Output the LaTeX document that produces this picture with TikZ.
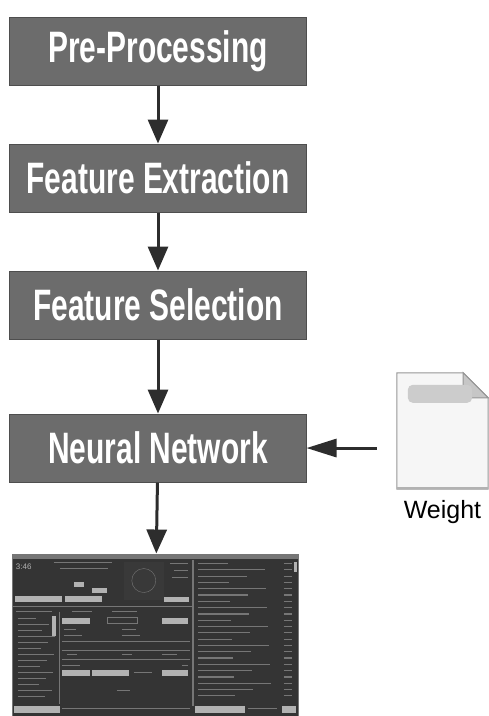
\documentclass[tikz,border=0pt]{standalone}
\usepackage{fontspec}
\setmainfont{Liberation Sans}
\newfontfamily\boxfont[FakeStretch=0.68]{Liberation Sans}
\usepackage{tikz}
\usetikzlibrary{arrows.meta, matrix, positioning}

\definecolor{boxgray}{RGB}{108,108,108}
\definecolor{boxedge}{RGB}{78,78,78}
\definecolor{arrowgray}{RGB}{45,45,45}
\definecolor{appdark}{RGB}{52,52,52}
\definecolor{appline}{RGB}{118,118,118}
\definecolor{applight}{RGB}{178,178,178}
\definecolor{docfill}{RGB}{246,246,246}
\definecolor{docedge}{RGB}{150,150,150}

\begin{document}
\begin{tikzpicture}[
		x=1pt, y=-1pt,
		every matrix/.style={row sep=58pt},
		process/.style={draw=boxedge, line width=1pt, fill=boxgray, text=white,
			minimum width=296pt, minimum height=68pt, inner sep=0pt,
			font=\boxfont\bfseries\fontsize{44}{48}\selectfont},
		screen/.style={draw=appline, fill=appdark, minimum width=286pt, minimum height=163pt, inner sep=0pt},
		docshape/.style={minimum width=91pt, minimum height=116pt, inner sep=0pt},
		to/.style={-{Triangle[width=20pt,length=24pt]}, line width=3pt, draw=arrowgray},
		bar/.style={fill=applight},
		txt/.style={draw=appline, line width=1.2pt}
		]
		
		\useasboundingbox (0,0) rectangle (489,716);
		
		\matrix[matrix of nodes, nodes={process}, anchor=north] (flow) at (158,13)
		{
			|(pre)| Pre-Processing \\
			|(ext)| Feature Extraction \\
			|(sel)| Feature Selection \\[16pt]
			|(nn)| Neural Network \\
		};
		
		% output window
		\node[screen, below=71pt of nn, xshift=-3pt] (app) {};
		
		% weight file
		\node[docshape] (weight) at (442.5,431) {};
		\node[below=11pt of weight, inner sep=0pt, font=\fontsize{25}{28}\selectfont] (wlabel) {Weight};
		
		\draw[to] (pre) -- (ext);
		\draw[to] (ext) -- (sel);
		\draw[to] (sel) -- (nn);
		\draw[to] (nn) -- (app);
		\draw[to, -{Triangle[width=18pt,length=30pt]}, shorten <=20pt] (weight.west |- nn.east) -- (nn.east);
		
		% file icon with folded corner
		\draw[docedge, line width=1pt, fill=docfill]
			(weight.north west) -- ([xshift=-25pt]weight.north east) -- ([yshift=-25pt]weight.north east)
			-- (weight.south east) -- (weight.south west) -- cycle;
		\draw[docedge, line width=1pt, fill=gray!45]
			([xshift=-25pt]weight.north east) -- ([xshift=-25pt,yshift=-25pt]weight.north east)
			-- ([yshift=-25pt]weight.north east) -- cycle;
		\fill[gray!40, rounded corners=5pt] ([xshift=11pt,yshift=-12pt]weight.north west) rectangle ([xshift=-16pt,yshift=-30pt]weight.north east);
		\draw[gray!60, line width=2.5pt] ([yshift=1pt]weight.south west) -- ([yshift=1pt]weight.south east);
		
		% window contents
		\begin{scope}[shift={(app.north west)}]
			\fill[appline] (0,0) rectangle (286,5);
			\node[anchor=west, text=applight, font=\fontsize{8}{9}\selectfont, inner sep=0pt] (clock) at (4,13) {3:46};
			\draw[txt] (42,9) -- (100,9);
			\draw[txt] (48,15) -- (96,15);
			\fill[gray!45!black] (112,8) rectangle (152,46);
			\draw[appline] (132,27) circle (12pt);
			\draw[txt] (158,10) -- (176,10) (162,17) -- (176,17) (160,24) -- (176,24);
			\fill[bar] (62,28) rectangle (72,33);
			\fill[bar] (80,34) rectangle (95,39);
			\fill[bar] (3,42) rectangle (50,48);
			\fill[bar] (53,42) rectangle (90,48);
			\fill[bar] (152,43) rectangle (177,48);
			\draw[appline] (0,53) -- (180,53);
			\draw[appline, line width=1.5pt] (181,6) -- (181,152);
			\draw[appline] (47,58) -- (47,150);
			\draw[txt] (4,58) -- (40,58) (60,58) -- (80,58) (100,58) -- (125,58);
			% left list
			\foreach \i in {0,...,13}
				\draw[txt] (6,{65+6*\i}) -- ++({18+mod(\i*13,20)},0);
			\fill[bar] (40,62) rectangle (44,82);
			% middle panel
			\fill[bar] (50,64) rectangle (78,70);
			\draw[appline] (95,64) rectangle (125,70);
			\fill[bar] (150,64) rectangle (176,70);
			\draw[txt] (52,76) -- (64,76) (110,76) -- (124,76) (52,82) -- (70,82) (110,82) -- (128,82);
			\draw[appline] (50,88) -- (178,88) (50,97) -- (178,97) (50,106) -- (178,106);
			\draw[txt] (55,101) -- (65,101) (110,101) -- (120,101) (150,101) -- (165,101);
			\draw[txt] (50,112) -- (68,112) (170,112) -- (176,112);
			\fill[bar] (50,116) rectangle (78,122);
			\fill[bar] (80,116) rectangle (117,122);
			\draw[txt] (122,119) -- (140,119);
			\fill[bar] (150,116) rectangle (176,122);
			\draw[txt] (105,137) -- (118,137);
			% playlist
			\foreach \i in {0,...,21}
				\draw[txt] (186,{10+6.3*\i}) -- ++({30+mod(\i*37,55)},0);
			\foreach \i in {0,...,21}
				\draw[txt] (272,{10+6.3*\i}) -- (280,{10+6.3*\i});
			\fill[bar] (282,8) rectangle (285,18);
			% bottom bars
			\fill[bar] (2,152) rectangle (48,159);
			\draw[appline] (50,155) -- (178,155);
			\fill[bar] (183,152) rectangle (233,159);
			\draw[appline] (236,155) -- (265,155);
			\fill[bar] (270,152) rectangle (284,159);
		\end{scope}
		
\end{tikzpicture}
\end{document}
